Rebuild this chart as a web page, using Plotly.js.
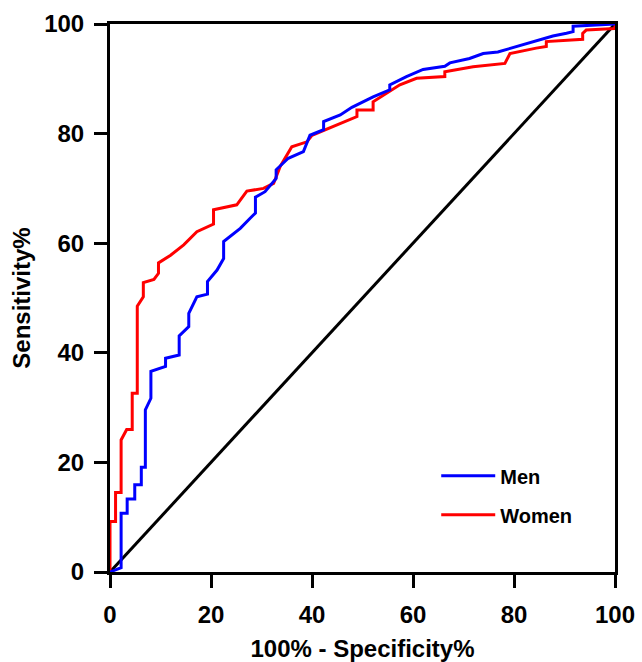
<!DOCTYPE html>
<html>
<head>
<meta charset="utf-8">
<script src="https://cdn.plot.ly/plotly-3.0.1.min.js"></script>
<style>html,body{margin:0;padding:0;background:#fff;}#chart{width:642px;height:662px;}</style>
</head>
<body>
<div id="chart"></div>
<script>
// Men ROC curve (100% - Specificity%, Sensitivity%)
const menX = [0, 2.2, 2.2, 3.4, 3.4, 4.9, 4.9, 6.2, 6.2, 7.0, 7.0, 8.1, 8.1, 11.0, 11.0, 13.7, 13.7, 15.6, 15.6, 17.2, 19.3, 19.3, 21.2, 22.5, 22.5, 24.5, 25.8, 27.8, 28.8, 28.8, 30.7, 32.9, 32.9, 35.3, 38.3, 39.6, 42.3, 42.3, 45.6, 47.9, 52.1, 55.4, 55.4, 58.7, 62.0, 66.3, 67.3, 71.2, 73.9, 76.8, 83.1, 87.7, 90.4, 91.7, 91.7, 100];
const menY = [0, 0.8, 10.7, 10.7, 13.3, 13.3, 15.9, 15.9, 19.1, 19.1, 29.6, 31.7, 36.6, 37.5, 39.0, 39.6, 43.1, 44.8, 47.2, 50.2, 50.7, 53.0, 55.1, 57.2, 60.3, 61.8, 62.7, 64.6, 65.5, 68.4, 69.4, 71.8, 73.4, 75.5, 76.7, 79.7, 80.7, 82.2, 83.4, 84.8, 86.7, 88.0, 88.9, 90.4, 91.7, 92.3, 92.9, 93.7, 94.6, 94.9, 96.6, 97.8, 98.3, 98.6, 99.6, 100];

// Women ROC curve
const womenX = [0, 0, 1.1, 1.1, 2.2, 2.2, 3.3, 4.4, 4.4, 5.4, 5.4, 6.6, 6.6, 8.7, 9.6, 9.6, 12.0, 14.6, 17.2, 19.2, 20.5, 20.5, 25.1, 27.1, 30.4, 32.4, 33.7, 36.0, 39.0, 40.0, 48.9, 48.9, 52.1, 52.1, 57.4, 60.7, 66.3, 66.3, 71.9, 78.2, 79.2, 84.4, 86.4, 86.4, 93.6, 93.6, 94.3, 100, 100];
const womenY = [0, 9.2, 9.2, 14.5, 14.5, 24.1, 26.0, 26.0, 32.6, 32.6, 48.5, 50.2, 52.8, 53.4, 54.5, 56.4, 57.8, 59.7, 62.1, 62.9, 63.5, 66.1, 67.0, 69.5, 70.0, 70.9, 74.0, 77.6, 78.5, 79.7, 83.1, 84.3, 84.3, 85.8, 88.9, 90.1, 90.4, 91.3, 92.2, 92.8, 94.6, 95.6, 95.9, 96.8, 97.2, 98.3, 98.9, 99.2, 100];

// Reference (chance) line
const refX = [0, 100];
const refY = [0, 100];

const tickVals = [0, 20, 40, 60, 80, 100];
const tickText = ['0', '20', '40', '60', '80', '100'];

const FONT = 'Liberation Sans, Arial, sans-serif';

const traces = [
  {x: refX, y: refY, mode: 'lines', line: {color: '#000000', width: 3}, showlegend: false, hoverinfo: 'skip'},
  {x: womenX, y: womenY, mode: 'lines', name: 'Women', legendgroup: 'w', legendrank: 2, line: {color: '#ff0000', width: 3}},
  {x: menX, y: menY, mode: 'lines', name: 'Men', legendgroup: 'm', legendrank: 1, line: {color: '#0000ff', width: 3}}
];

const axisCommon = {
  range: [0, 100],
  tickvals: tickVals,
  ticktext: tickText,
  ticks: 'outside',
  ticklen: 13,
  tickwidth: 3,
  tickcolor: '#000',
  showline: true,
  linewidth: 3,
  linecolor: '#000',
  mirror: true,
  showgrid: false,
  zeroline: false,
  tickfont: {family: FONT, size: 24, color: '#000', weight: 'bold'},
  fixedrange: true
};

const layout = {
  width: 642,
  height: 662,
  margin: {l: 110, r: 27, t: 24, b: 90},
  paper_bgcolor: '#fff',
  plot_bgcolor: '#fff',
  xaxis: Object.assign({}, axisCommon, {
    ticklabelstandoff: 6,
    title: {text: '100% - Specificity%', font: {family: FONT, size: 24, color: '#000', weight: 'bold'}, standoff: 14}
  }),
  yaxis: Object.assign({}, axisCommon, {
    ticklabelstandoff: 5,
    title: {text: 'Sensitivity%', font: {family: FONT, size: 24, color: '#000', weight: 'bold'}, standoff: 7}
  }),
  showlegend: true,
  legend: {
    x: 0.646, y: 0.211, xanchor: 'left', yanchor: 'top',
    traceorder: 'grouped', tracegroupgap: 10,
    itemwidth: 54,
    font: {family: FONT, size: 20, color: '#000', weight: 'bold'},
    bgcolor: 'rgba(0,0,0,0)'
  }
};

Plotly.newPlot('chart', traces, layout, {displayModeBar: false, staticPlot: true});
</script>
</body>
</html>
